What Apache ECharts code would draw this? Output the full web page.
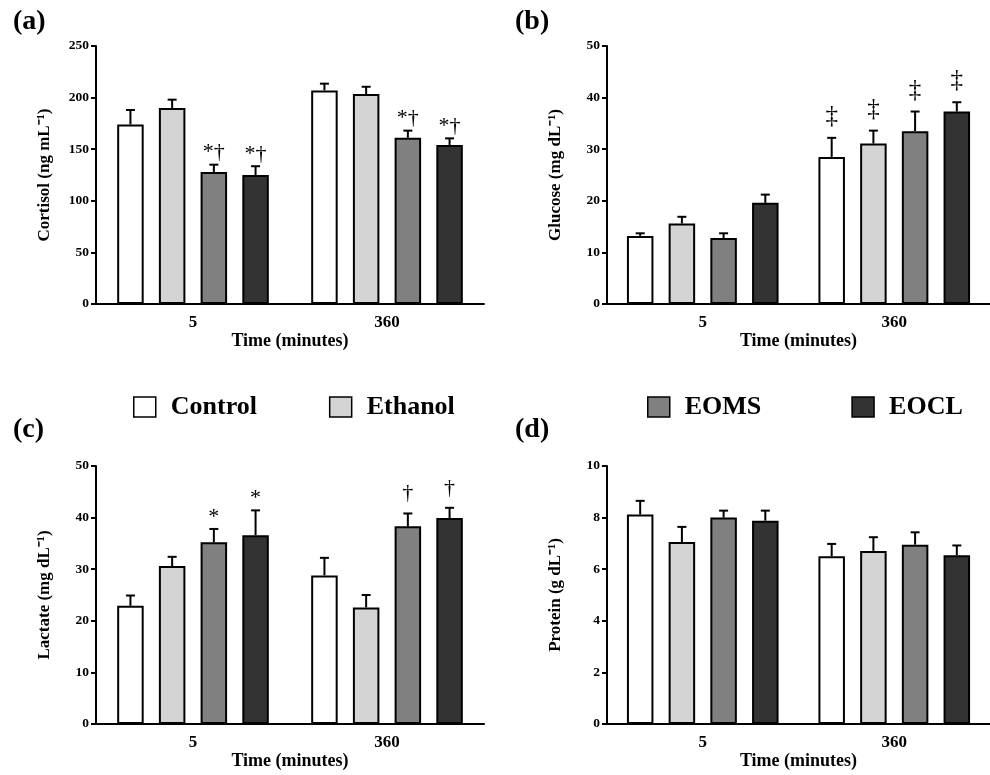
<!DOCTYPE html>
<html>
<head>
<meta charset="utf-8">
<script src="https://cdn.jsdelivr.net/npm/echarts@6/dist/echarts.min.js"></script>
<style>
html,body{margin:0;padding:0;background:#fff;}
#chart{width:990px;height:775px;}
</style>
</head>
<body>
<div id="chart"></div>
<script>
// ---- data ----
const categories = ['5', '360'];
const groups = ['Control', 'Ethanol', 'EOMS', 'EOCL'];
const colors = ['#ffffff', '#d4d4d4', '#808080', '#333333'];

// values per group: [5 min, 360 min]
const cortisolMean = [[174, 207], [190, 203.5], [128, 161], [125, 154]];
const cortisolSem  = [[14, 6.5], [8, 7], [7, 7], [8.5, 6.5]];
const cortisolAnn  = [['', ''], ['', ''], ['*†', '*†'], ['*†', '*†']];

const glucoseMean = [[13.2, 28.5], [15.6, 31.1], [12.8, 33.5], [19.6, 37.3]];
const glucoseSem  = [[0.5, 3.7], [1.3, 2.5], [0.9, 3.8], [1.6, 1.8]];
const glucoseAnn  = [['', '‡'], ['', '‡'], ['', '‡'], ['', '‡']];

const lactateMean = [[22.9, 28.8], [30.6, 22.6], [35.2, 38.3], [36.6, 39.9]];
const lactateSem  = [[2.0, 3.4], [1.8, 2.4], [2.6, 2.5], [4.8, 2.0]];
const lactateAnn  = [['', ''], ['', ''], ['*', '†'], ['*', '†']];

const proteinMean = [[8.12, 6.5], [7.05, 6.71], [8.0, 6.95], [7.88, 6.54]];
const proteinSem  = [[0.53, 0.48], [0.59, 0.53], [0.27, 0.48], [0.39, 0.38]];
const proteinAnn  = [['', ''], ['', ''], ['', ''], ['', '']];

const yNames = ['Cortisol (ng mL⁻¹)', 'Glucose (mg dL⁻¹)', 'Lactate (mg dL⁻¹)', 'Protein (g dL⁻¹)'];
const yMax = [250, 50, 50, 10];
const yInterval = [50, 10, 10, 2];
const panelLabels = ['(a)', '(b)', '(c)', '(d)'];

// ---- style ----
const FONT = "'Liberation Serif', 'Times New Roman', serif";
const BAR_W = 26.5;
const BAR_GAP = 0.574;
const PITCH = BAR_W * (1 + BAR_GAP);

const gridPos = [
  {left: 96, top: 46, width: 388, height: 258},
  {left: 607, top: 46, width: 388, height: 258},
  {left: 96, top: 466, width: 388, height: 258},
  {left: 607, top: 466, width: 388, height: 258}
];

const panels = [
  [cortisolMean, cortisolSem, cortisolAnn],
  [glucoseMean, glucoseSem, glucoseAnn],
  [lactateMean, lactateSem, lactateAnn],
  [proteinMean, proteinSem, proteinAnn]
];

const grid = [], xAxis = [], yAxis = [], series = [], graphic = [];

panels.forEach((p, k) => {
  const [mean, sem, ann] = p;
  grid.push(Object.assign({containLabel: false}, gridPos[k]));
  xAxis.push({
    type: 'category', gridIndex: k, data: categories,
    name: 'Time (minutes)', nameLocation: 'middle', nameGap: 27,
    nameTextStyle: {fontFamily: FONT, fontWeight: 'bold', fontSize: 18, color: '#000'},
    axisLine: {lineStyle: {color: '#000', width: 2}},
    axisTick: {alignWithLabel: true, length: 6, lineStyle: {color: '#000', width: 2}},
    axisLabel: {fontFamily: FONT, fontWeight: 'bold', fontSize: 17, color: '#000', margin: 10},
    splitLine: {show: false}
  });
  yAxis.push({
    type: 'value', gridIndex: k, min: 0, max: yMax[k], interval: yInterval[k],
    name: yNames[k], nameLocation: 'middle', nameGap: 43, nameRotate: 90,
    nameTextStyle: {fontFamily: FONT, fontWeight: 'bold', fontSize: 17, color: '#000'},
    axisLine: {show: true, lineStyle: {color: '#000', width: 2}},
    axisTick: {show: true, length: 5, lineStyle: {color: '#000', width: 2}},
    axisLabel: {fontFamily: FONT, fontWeight: 'bold', fontSize: 13.5, color: '#000', margin: 7},
    splitLine: {show: false}
  });
  groups.forEach((g, i) => {
    series.push({
      type: 'bar', name: g, xAxisIndex: k, yAxisIndex: k,
      data: mean[i], barWidth: BAR_W, barGap: (BAR_GAP * 100) + '%',
      itemStyle: {color: colors[i], borderColor: '#000', borderWidth: 2},
      emphasis: {disabled: true}, silent: true, animation: false
    });
  });
  const errData = [];
  const errAnn = [];
  groups.forEach((g, i) => {
    categories.forEach((c, ci) => {
      errData.push([ci, mean[i][ci], sem[i][ci], i]);
      errAnn.push(ann[i][ci]);
    });
  });
  series.push({
    type: 'custom', xAxisIndex: k, yAxisIndex: k, data: errData,
    encode: {x: 0, y: 1}, silent: true, animation: false, z: 5,
    renderItem: function (params, api) {
      const ci = api.value(0), m = api.value(1), s = api.value(2), gi = api.value(3);
      const base = api.coord([ci, m]);
      const top = api.coord([ci, m + s]);
      const x = base[0] + (gi - 1.5) * PITCH;
      const children = [
        {type: 'line', shape: {x1: x, y1: base[1], x2: x, y2: top[1]}, style: {stroke: '#000', lineWidth: 2}},
        {type: 'line', shape: {x1: x - 4.5, y1: top[1], x2: x + 4.5, y2: top[1]}, style: {stroke: '#000', lineWidth: 2}}
      ];
      const t = errAnn[params.dataIndex];
      if (t) {
        const gap = t.indexOf('*') >= 0 ? 1 : 9;
        const size = t === '‡' ? 25 : 22;
        children.push({
          type: 'text', x: x, y: top[1] - gap,
          style: {text: t, fill: '#000', font: size + 'px ' + FONT, align: 'center', verticalAlign: 'bottom'}
        });
      }
      return {type: 'group', children: children};
    }
  });
});

const labelPos = [[13, 8], [515, 8], [13, 416], [515, 416]];
panelLabels.forEach((t, k) => {
  graphic.push({
    type: 'text', left: labelPos[k][0], top: labelPos[k][1],
    style: {text: t, fill: '#000', font: 'bold 28px ' + FONT}
  });
});

const legendCommon = {
  orient: 'horizontal', top: 389, itemWidth: 22, itemHeight: 20,
  icon: 'rect', selectedMode: false,
  itemStyle: {borderColor: '#000', borderWidth: 1.5},
  textStyle: {fontFamily: FONT, fontWeight: 'bold', fontSize: 26, color: '#000', padding: [0, 0, 0, 10]}
};

const option = {
  backgroundColor: '#fff',
  animation: false,
  grid: grid, xAxis: xAxis, yAxis: yAxis, series: series, graphic: graphic,
  legend: [
    Object.assign({}, legendCommon, {left: 128, itemGap: 72, data: ['Control', 'Ethanol']}),
    Object.assign({}, legendCommon, {left: 642, itemGap: 90, data: ['EOMS', 'EOCL']})
  ]
};

const chart = echarts.init(document.getElementById('chart'), null, {renderer: 'canvas'});
chart.setOption(option);
</script>
</body>
</html>
